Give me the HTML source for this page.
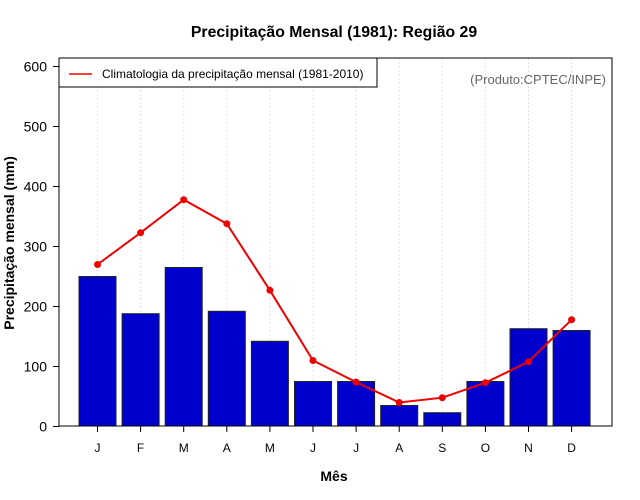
<!DOCTYPE html>
<html><head><meta charset="utf-8">
<style>
body{margin:0;background:#fff;}
svg{display:block;font-family:"Liberation Sans",sans-serif;}
</style></head>
<body>
<svg id="chart" width="640" height="500" viewBox="0 0 640 500">
<text x="334" y="37" text-anchor="middle" font-size="15.8" font-weight="bold">Precipitação Mensal (1981): Região 29</text>
<text transform="translate(14,243) rotate(-90)" text-anchor="middle" font-size="14" font-weight="bold">Precipitação mensal (mm)</text>
<text x="334" y="481" text-anchor="middle" font-size="14" font-weight="bold">Mês</text>
<g id="grid"></g><g id="bars"></g><g id="line"></g><g id="axes"></g>
<rect x="59" y="58" width="553" height="368" fill="none" stroke="#000" stroke-width="1"/>
<g>
<rect x="59" y="58" width="318" height="29" fill="#fff" stroke="#000"/>
<line x1="69" y1="74" x2="92" y2="74" stroke="#e00" stroke-width="1.5"/>
<text x="102" y="78" font-size="12">Climatologia da precipitação mensal (1981-2010)</text>
</g>
<text x="606" y="84" text-anchor="end" font-size="13" fill="#666">(Produto:CPTEC/INPE)</text>
</svg>
<script>
const months=["J","F","M","A","M","J","J","A","S","O","N","D"];
const observed=[250,188,265,192,142,75,75,35,23,75,163,160];
const climatology=[270,323,378,338,227,110,74,40,48,73,108,178];
const yTicks=[0,100,200,300,400,500,600];
const NS="http://www.w3.org/2000/svg";
function xs(i){return 97.5+i*43.1;}
function ys(v){return 426.5-v*0.6;}
function mk(t,a,p){const e=document.createElementNS(NS,t);for(const k in a)e.setAttribute(k,a[k]);p.appendChild(e);return e;}
const g=document.getElementById('grid'),b=document.getElementById('bars'),l=document.getElementById('line'),ax=document.getElementById('axes');
months.forEach((m,i)=>{
 const gl=mk('line',{x1:xs(i),x2:xs(i),y1:58,y2:426,stroke:'#e4e4e4','stroke-dasharray':'2,2'},g);
 
 
 const r=mk('rect',{x:xs(i)-18.5,y:ys(observed[i]),width:37,height:426-ys(observed[i]),fill:'#0000cc',stroke:'#222','stroke-width':1},b);
 
 
 const t=mk('line',{x1:xs(i),x2:xs(i),y1:426,y2:432,stroke:'#000'},ax);
 
 
 const tx=mk('text',{x:xs(i),y:452,'text-anchor':'middle','font-size':12},ax);
 tx.textContent=m;
 
 
});
const pl=mk('polyline',{points:climatology.map((v,i)=>xs(i)+','+ys(v)).join(' '),fill:'none',stroke:'#e00','stroke-width':2},l);


climatology.forEach((v,i)=>{
 const c=mk('circle',{cx:xs(i),cy:ys(v),r:3.5,fill:'#e00'},l);
 
 
});
yTicks.forEach(v=>{
 const t=mk('line',{x1:53,x2:59,y1:ys(v),y2:ys(v),stroke:'#000'},ax);
 
 
 const tx=mk('text',{x:47,y:ys(v)+5,'text-anchor':'end','font-size':14},ax);
 tx.textContent=v;
 
 
});
</script>
</body></html>
